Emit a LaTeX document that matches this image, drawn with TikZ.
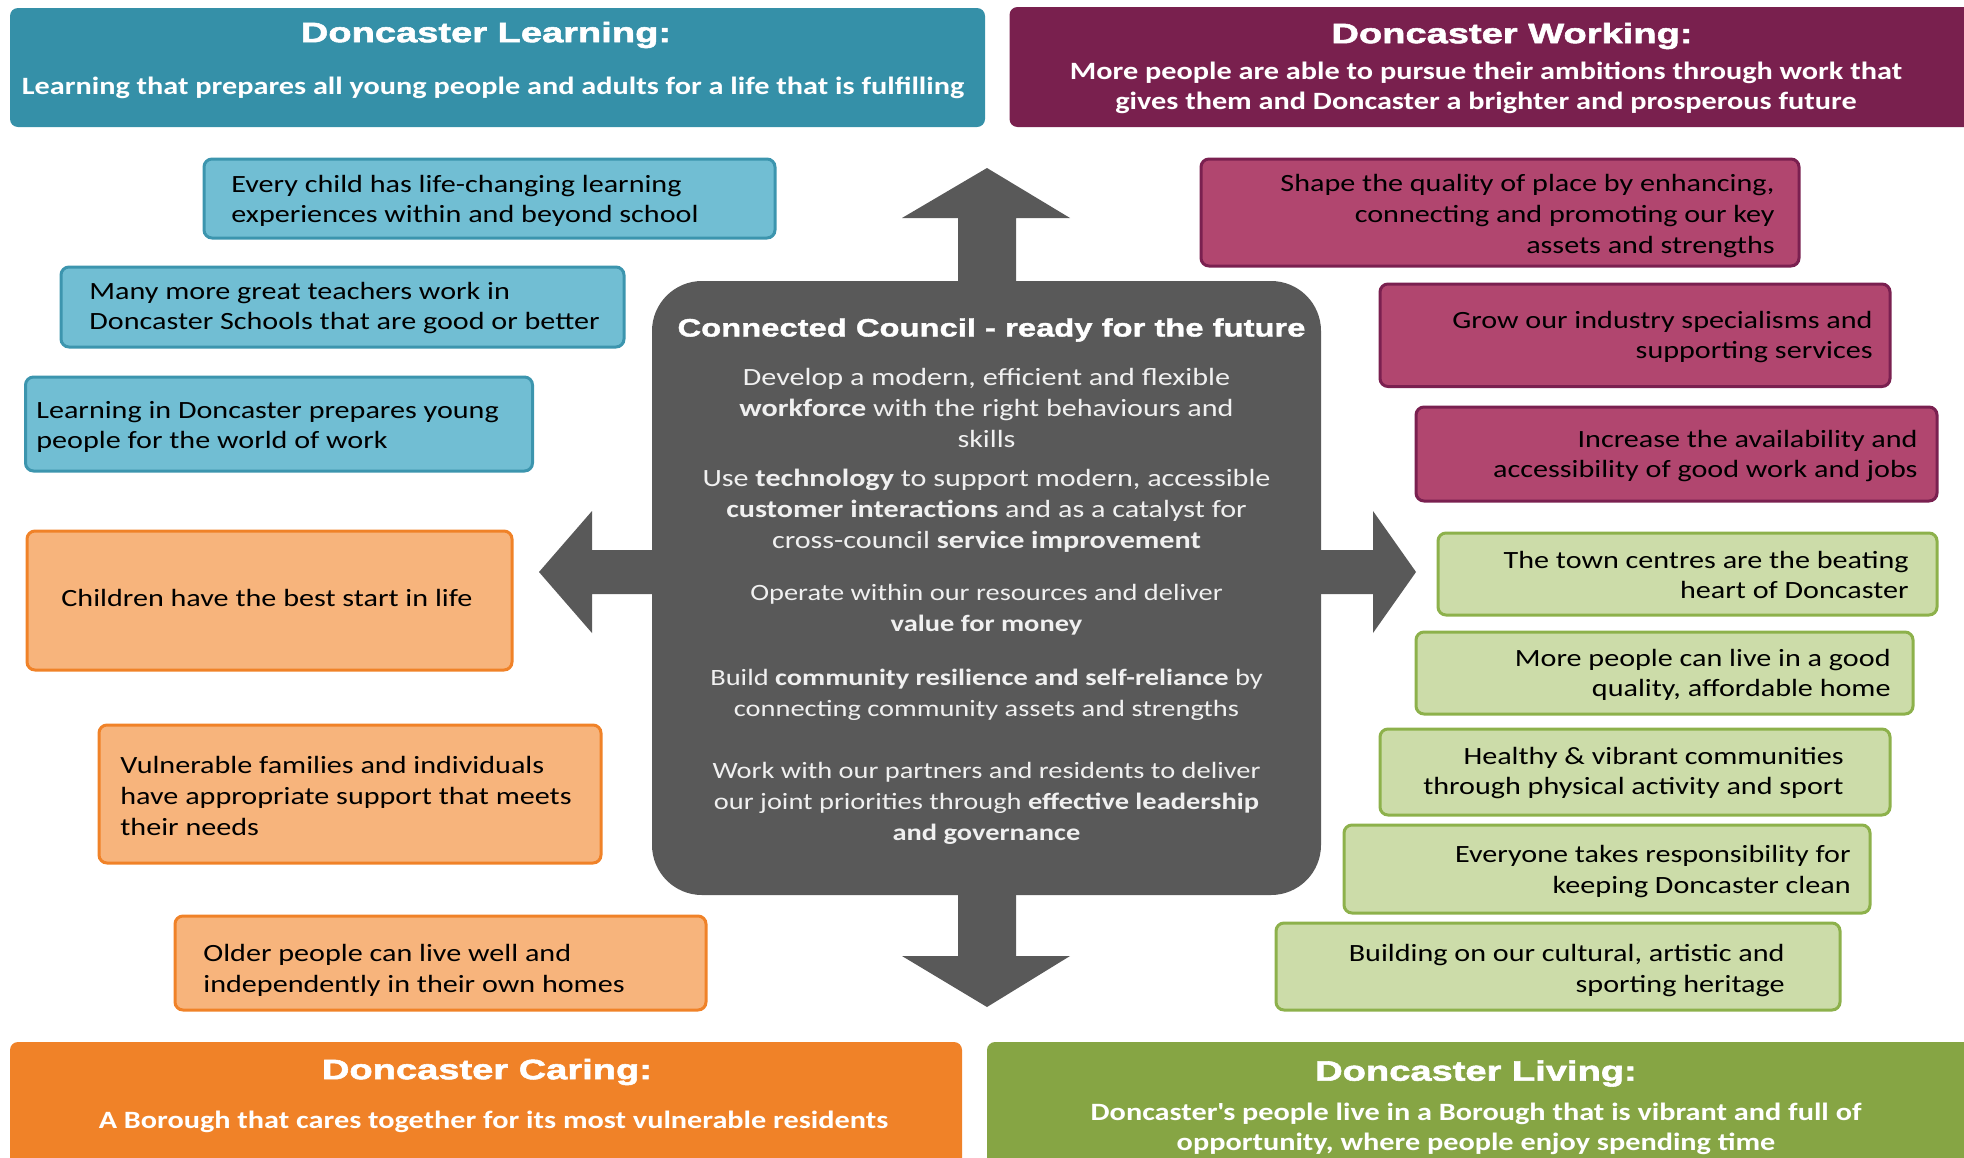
\documentclass[tikz,border=0pt]{standalone}
\usepackage{fontspec}
\setmainfont{Carlito}[FakeStretch=1.215]
\newfontfamily\headfont{Liberation Sans}[FakeStretch=1.36,BoldFeatures={FakeBold=2}]
\newfontfamily\councilfont{Liberation Sans}[FakeStretch=1.3,BoldFeatures={FakeBold=1.5}]

\definecolor{learnDark}{HTML}{3590A8}
\definecolor{learnLight}{HTML}{71BED3}
\definecolor{learnLine}{HTML}{3C95AE}
\definecolor{workDark}{HTML}{79204E}
\definecolor{workLight}{HTML}{B1466F}
\definecolor{workLine}{HTML}{7A2050}
\definecolor{careDark}{HTML}{F08228}
\definecolor{careLight}{HTML}{F7B47C}
\definecolor{careLine}{HTML}{F08228}
\definecolor{liveDark}{HTML}{86A544}
\definecolor{liveLight}{HTML}{CCDCA9}
\definecolor{liveLine}{HTML}{8DB14B}
\definecolor{councilGrey}{HTML}{595959}

\begin{document}
\begin{tikzpicture}[x=0.5pt,y=-0.5pt,
  header/.style={fill=#1,rounded corners=4pt,inner sep=0pt,outer sep=0pt},
  headtitle/.style={text=white,inner sep=0pt,font=\headfont\bfseries\fontsize{14}{16}\selectfont},
  headtext/.style={text=white,align=center,inner sep=0pt,font=\bfseries\fontsize{12.45}{15}\selectfont},
  aim/.style 2 args={draw=#1,fill=#2,line width=1.5pt,rounded corners=4pt,inner sep=0pt,outer sep=0pt},
  aimtext/.style={inner sep=0pt,font=\fontsize{12.4}{15.3}\selectfont},
  councilbox/.style={fill=councilGrey,rounded corners=25pt,inner sep=0pt},
  councilhead/.style={text=white,inner sep=0pt,font=\councilfont\bfseries\fontsize{12.6}{15}\selectfont},
  councilpara/.style={text=white!94!black,align=center,inner sep=0pt,font=\fontsize{#1}{15.5}\selectfont},
  councilpara/.default=12.4]
\useasboundingbox (0,0) rectangle (1964,1157);

% theme headers
\node[header=learnDark,minimum width=487.5pt,minimum height=59.5pt] (learning) at (497.5,67.5) {};
\node[header=workDark,minimum width=482.75pt,minimum height=60pt] (working) at (1492.25,67) {};
\node[header=careDark,minimum width=476pt,minimum height=64pt] (caring) at (486,1106) {};
\node[header=liveDark,minimum width=494pt,minimum height=64pt] (living) at (1481,1106) {};

\node[headtitle] (learnT) at (486,35) {Doncaster Learning:};
\node[headtext] (learnS) at (493,87.5) {Learning that prepares all young people and adults for a life that is fulfilling};
\node[headtitle] (workT) at (1512,36) {Doncaster Working:};
\node[headtext] (workS) at (1486,88) {More people are able to pursue their ambitions through work that\\gives them and Doncaster a brighter and prosperous future};
\node[headtitle] (careT) at (487,1072) {Doncaster Caring:};
\node[headtext] (careS) at (493.5,1121.5) {A Borough that cares together for its most vulnerable residents};
\node[headtitle] (liveT) at (1476,1073.5) {Doncaster Living:};
\node[headtext] (liveS) at (1476,1129) {Doncaster\textquotesingle s people live in a Borough that is vibrant and full of\\opportunity, where people enjoy spending time};

% arrows behind the council box
\fill[councilGrey] (958,300) -- (958,218) -- (902,218) -- (987,168) -- (1070,218) -- (1016,218) -- (1016,300) -- cycle;
\fill[councilGrey] (958,880) -- (958,956) -- (902,956) -- (987,1007) -- (1070,956) -- (1016,956) -- (1016,880) -- cycle;
\fill[councilGrey] (670,550) -- (592,550) -- (592,511) -- (539,572) -- (592,633) -- (592,594) -- (670,594) -- cycle;
\fill[councilGrey] (1300,550) -- (1373,550) -- (1373,511) -- (1416,572) -- (1373,633) -- (1373,594) -- (1300,594) -- cycle;

% connected council
\node[councilbox,minimum width=334.5pt,minimum height=307pt] (council) at (986.5,588) {};
\node[councilhead] (councilT) at (991.5,330) {Connected Council - ready for the future};
\node[councilpara] (workforce) at (986.5,407.5) {Develop a modern, efficient and flexible\\\textbf{workforce} with the right behaviours and\\skills};
\node[councilpara] (technology) at (986.5,511) {Use \textbf{technology} to support modern, accessible\\\textbf{customer interactions} and as a catalyst for\\cross-council \textbf{service improvement}};
\node[councilpara=11.7] (money) at (986.5,610) {Operate within our resources and deliver\\\textbf{value for money}};
\node[councilpara=11.7] (resilience) at (986.5,695) {Build \textbf{community resilience and self-reliance} by\\connecting community assets and strengths};
\node[councilpara=11.7] (governance) at (986.5,803) {Work with our partners and residents to deliver\\our joint priorities through \textbf{effective leadership}\\\textbf{and governance}};

% learning and caring aims, text from the left
\foreach \n/\c/\xa/\ya/\xb/\yb/\tx/\ty/\txt in {
  every/learn/204/159/775/238/231/201/{Every child has life-changing learning\\experiences within and beyond school},
  teachers/learn/61/267/624/347/89/308/{Many more great teachers work in\\Doncaster Schools that are good or better},
  worldwork/learn/25.5/377/532.5/471/36/427/{Learning in Doncaster prepares young\\people for the world of work},
  start/care/27/531/512/670/61/598/{Children have the best start in life},
  families/care/99/725/601/863/120/796/{Vulnerable families and individuals\\have appropriate support that meets\\their needs},
  older/care/175/916/706/1010/203/970.5/{Older people can live well and\\independently in their own homes}} {
  \path[aim={\c Line}{\c Light}] (\xa,\ya) rectangle (\xb,\yb) node[pos=.5] (\n) {};
  \node[aimtext,anchor=west,align=left] (\n T) at (\tx,\ty) {\txt};
}
% working and living aims, text from the right
\foreach \n/\c/\xa/\ya/\xb/\yb/\tx/\ty/\txt in {
  place/work/1201/159/1799/266/1775/216/{Shape the quality of place by enhancing,\\connecting and promoting our key\\assets and strengths},
  industry/work/1380/284/1890/386.5/1873/337/{Grow our industry specialisms and\\supporting services},
  jobs/work/1416/407/1937/501/1918/456/{Increase the availability and\\accessibility of good work and jobs},
  towns/live/1438/533/1937/615/1909/575/{The town centres are the beating\\heart of Doncaster},
  homes/live/1416/632/1913/714/1891/675/{More people can live in a good\\quality, affordable home},
  healthy/live/1380/729/1890/815/1844/773/{Healthy \& vibrant communities\\through physical activity and sport},
  clean/live/1344/825/1870/913/1851/871.5/{Everyone takes responsibility for\\keeping Doncaster clean},
  heritage/live/1276/923/1840/1010/1785/970.5/{Building on our cultural, artistic and\\sporting heritage}} {
  \path[aim={\c Line}{\c Light}] (\xa,\ya) rectangle (\xb,\yb) node[pos=.5] (\n) {};
  \node[aimtext,anchor=east,align=right] (\n T) at (\tx,\ty) {\txt};
}
\end{tikzpicture}
\end{document}
